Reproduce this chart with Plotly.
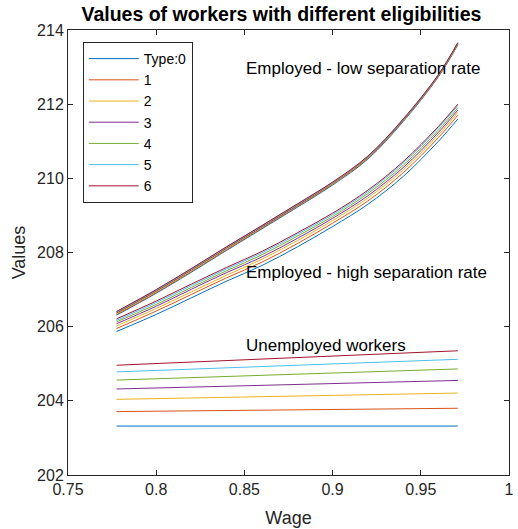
import plotly.graph_objects as go

# Wage grid for the employed value functions
wage = [0.7775, 0.80, 0.82, 0.84, 0.86, 0.88, 0.90, 0.92, 0.94, 0.96, 0.971]
# Wage end points for the unemployed values (straight lines)
wage_u = [0.7775, 0.971]

type_labels = ["Type:0", "1", "2", "3", "4", "5", "6"]
colors = ["#0072BD", "#D95319", "#EDB120", "#7E2F8E", "#77AC30", "#4DBEEE", "#A2142F"]

# Employed - low separation rate
low_sep = [
    [206.31, 206.90, 207.47, 208.06, 208.64, 209.22, 209.82, 210.52, 211.53, 212.74, 213.60],
    [206.33, 206.92, 207.49, 208.08, 208.66, 209.24, 209.84, 210.54, 211.55, 212.75, 213.61],
    [206.35, 206.94, 207.51, 208.10, 208.68, 209.26, 209.86, 210.56, 211.56, 212.77, 213.63],
    [206.37, 206.96, 207.53, 208.12, 208.69, 209.27, 209.87, 210.57, 211.57, 212.78, 213.64],
    [206.39, 206.98, 207.55, 208.14, 208.71, 209.29, 209.88, 210.58, 211.58, 212.79, 213.64],
    [206.40, 206.99, 207.56, 208.15, 208.72, 209.30, 209.89, 210.59, 211.59, 212.79, 213.65],
    [206.41, 207.00, 207.57, 208.16, 208.73, 209.31, 209.90, 210.60, 211.60, 212.80, 213.66],
]

# Employed - high separation rate
high_sep = [
    [205.87, 206.33, 206.78, 207.23, 207.65, 208.15, 208.70, 209.30, 210.05, 211.00, 211.60],
    [205.95, 206.42, 206.87, 207.32, 207.74, 208.24, 208.79, 209.39, 210.15, 211.10, 211.70],
    [206.02, 206.49, 206.94, 207.39, 207.82, 208.32, 208.86, 209.47, 210.23, 211.18, 211.78],
    [206.08, 206.55, 207.01, 207.46, 207.88, 208.38, 208.92, 209.53, 210.29, 211.24, 211.84],
    [206.13, 206.60, 207.06, 207.51, 207.94, 208.44, 208.97, 209.59, 210.35, 211.30, 211.90],
    [206.17, 206.65, 207.11, 207.56, 207.99, 208.49, 209.02, 209.64, 210.41, 211.36, 211.96],
    [206.21, 206.69, 207.15, 207.60, 208.03, 208.53, 209.06, 209.68, 210.45, 211.40, 212.00],
]

# Unemployed workers
unemployed = [
    [203.32, 203.32],
    [203.71, 203.80],
    [204.04, 204.21],
    [204.32, 204.55],
    [204.56, 204.86],
    [204.78, 205.12],
    [204.96, 205.35],
]

x_ticks = [0.75, 0.80, 0.85, 0.90, 0.95, 1.00]
x_tick_text = ["0.75", "0.8", "0.85", "0.9", "0.95", "1"]
y_ticks = [202, 204, 206, 208, 210, 212, 214]

FONT = "Liberation Sans, Arial, sans-serif"
AXIS_COLOR = "#262626"

fig = go.Figure()
for k in range(len(type_labels)):
    fig.add_trace(go.Scatter(x=wage, y=low_sep[k], mode="lines",
                             line=dict(color=colors[k], width=1, shape="spline", smoothing=1),
                             name=type_labels[k], legendgroup=str(k), showlegend=True))
    fig.add_trace(go.Scatter(x=wage, y=high_sep[k], mode="lines",
                             line=dict(color=colors[k], width=1, shape="spline", smoothing=1),
                             name=type_labels[k], legendgroup=str(k), showlegend=False))
    fig.add_trace(go.Scatter(x=wage_u, y=unemployed[k], mode="lines",
                             line=dict(color=colors[k], width=1),
                             name=type_labels[k], legendgroup=str(k), showlegend=False))

annotations = [
    dict(x=0.85, y=212.95, text="Employed - low separation rate"),
    dict(x=0.85, y=207.47, text="Employed - high separation rate"),
    dict(x=0.85, y=205.48, text="Unemployed workers"),
]
for a in annotations:
    fig.add_annotation(x=a["x"], y=a["y"], text=a["text"], xref="x", yref="y",
                       xanchor="left", yanchor="middle", showarrow=False,
                       font=dict(family=FONT, size=17, color="black"))

axis_common = dict(showline=True, linecolor=AXIS_COLOR, linewidth=1, mirror="ticks",
                   ticks="inside", ticklen=5, tickcolor=AXIS_COLOR, showgrid=False,
                   zeroline=False, ticklabeloverflow="allow",
                   tickfont=dict(family=FONT, size=16, color=AXIS_COLOR))

fig.update_layout(
    width=518, height=529,
    margin=dict(l=68, r=4, t=30, b=54),
    paper_bgcolor="white", plot_bgcolor="white",
    title=dict(text="<b>Values of workers with different eligibilities</b>",
               x=0.484, xref="paper", xanchor="center", y=1 - 14 / 529, yanchor="middle",
               font=dict(family=FONT, size=19.5, color="black")),
    xaxis=dict(range=[0.75, 1.00001], tickvals=x_ticks, ticktext=x_tick_text,
               title=dict(text="Wage", font=dict(family=FONT, size=18, color=AXIS_COLOR), standoff=14),
               **axis_common),
    yaxis=dict(range=[202, 214], tickvals=y_ticks,
               title=dict(text="Values", font=dict(family=FONT, size=18, color=AXIS_COLOR), standoff=6),
               **axis_common),
    legend=dict(x=0.0336, y=0.973, xanchor="left", yanchor="top",
                bgcolor="white", bordercolor=AXIS_COLOR, borderwidth=1,
                font=dict(family=FONT, size=14, color="black"),
                itemwidth=50, tracegroupgap=0, traceorder="normal"),
    showlegend=True,
)

fig.write_html("out.html")
